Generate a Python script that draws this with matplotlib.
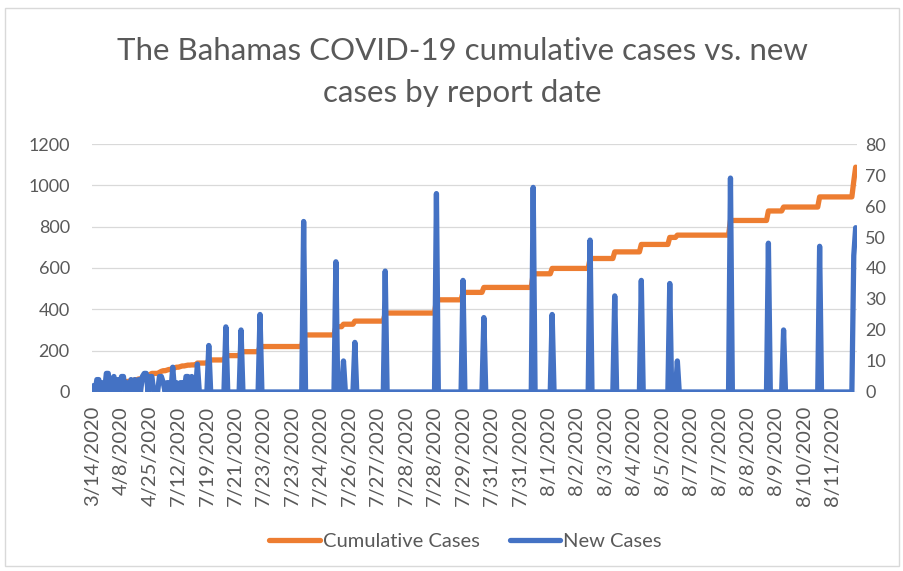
import numpy as np
import matplotlib.pyplot as plt
from matplotlib.patches import Rectangle

plt.rcParams['font.family'] = ['Lato', 'DejaVu Sans']

# one row per report record, x axis labels every 15th record
n_rows = 403
label_every = 15
tick_labels = ["3/14/2020", "4/8/2020", "4/25/2020", "7/12/2020", "7/19/2020",
               "7/21/2020", "7/23/2020", "7/23/2020", "7/24/2020", "7/26/2020",
               "7/27/2020", "7/28/2020", "7/28/2020", "7/29/2020", "7/31/2020",
               "7/31/2020", "8/1/2020", "8/2/2020", "8/3/2020", "8/4/2020",
               "8/5/2020", "8/7/2020", "8/7/2020", "8/8/2020", "8/9/2020",
               "8/10/2020", "8/11/2020"]

# new cases: records with a non-zero count (all other records are 0)
new_rows = [0, 2, 3, 5, 7, 8, 10, 11, 13, 15, 16, 18, 20, 22, 24, 26, 27, 28,
            30, 31, 35, 36, 37, 39, 40, 42, 44, 46, 47, 49, 50, 52, 55,
            61, 70, 78, 88, 111, 128, 132, 138, 154, 181, 195, 206, 232, 242,
            262, 275, 289, 304, 308, 336, 356, 364, 383, 401, 402]
new_values = [2, 4, 4, 3, 6, 6, 4, 5, 4, 5, 5, 3, 4, 4, 4, 5, 6, 6,
              5, 5, 5, 5, 3, 3, 3, 8, 3, 3, 3, 5, 5, 5, 9,
              15, 21, 20, 25, 55, 42, 10, 16, 39, 64, 36, 24, 66, 25,
              49, 31, 36, 35, 10, 69, 48, 20, 47, 44, 53]

# cumulative cases: value changes (held until the next change)
cum_rows = [0, 2, 3, 5, 7, 8, 10, 11, 13, 15, 16, 18, 20, 22, 24, 26, 27, 28,
            30, 31, 35, 36, 37, 39, 40, 42, 44, 46, 47, 49, 50, 52, 55,
            61, 70, 78, 88, 111, 128, 132, 138, 154, 181, 195, 206, 232, 242,
            262, 275, 289, 304, 308, 336, 356, 364, 383, 401, 402]
cum_values = [2, 6, 10, 13, 19, 25, 29, 34, 38, 43, 48, 51, 55, 59, 63, 68, 74, 80,
              85, 90, 95, 100, 103, 106, 109, 117, 120, 123, 126, 128, 130, 131, 140,
              155, 176, 195, 220, 276, 316, 328, 343, 382, 446, 482, 506, 572, 598,
              646, 678, 714, 748, 759, 830, 876, 895, 944, 1020, 1088]

rows = np.arange(n_rows)
new_cases = np.zeros(n_rows)
new_cases[new_rows] = new_values
cum_cases = np.zeros(n_rows)
for r, v in zip(cum_rows, cum_values):
    cum_cases[r:] = v

orange = "#ED7D31"
blue = "#4472C4"
grey_txt = "#595959"
lw = 3.8

fig = plt.figure(figsize = (9.04, 5.71), dpi = 100)
ax = fig.add_axes([0.1018, 0.3135, 0.8462, 0.4343])

l1, = ax.plot(rows, cum_cases, color = orange, linewidth = lw,
              solid_joinstyle = "round", solid_capstyle = "round", label = "Cumulative Cases")
ax.set_ylim(0, 1200)
ax.set_yticks(np.arange(0, 1201, 200))
ax.set_xlim(-0.55, 402.7)
ax.grid(axis = "y", color = "#d9d9d9", linewidth = 0.9)
ax.set_axisbelow(True)
ax.set_xticks(rows[::label_every][:len(tick_labels)])
ax.set_xticklabels(tick_labels, rotation = 90)
ax.tick_params(axis = "x", length = 0, pad = 10, labelsize = 14.5, labelcolor = grey_txt)
ax.tick_params(axis = "y", length = 0, pad = 16, labelsize = 13, labelcolor = grey_txt)

ax2 = ax.twinx()
l2, = ax2.plot(rows, new_cases, color = blue, linewidth = lw,
               solid_joinstyle = "round", solid_capstyle = "round", label = "New Cases")
ax2.set_ylim(0, 80)
ax2.set_yticks(np.arange(0, 81, 10))
ax2.tick_params(axis = "y", length = 0, pad = 6, labelsize = 13, labelcolor = grey_txt)

for a in (ax, ax2):
    for s in a.spines.values():
        s.set_visible(False)

fig.text(0.511, 0.874, "The Bahamas COVID-19 cumulative cases vs. new\ncases by report date",
         ha = "center", va = "center", fontsize = 22.5, color = grey_txt,
         linespacing = 1.6)

fig.legend([l1, l2], ["Cumulative Cases", "New Cases"], loc = "center",
           bbox_to_anchor = (0.515, 0.051), ncol = 2, frameon = False,
           fontsize = 14.5, labelcolor = grey_txt, handlelength = 2.5,
           handletextpad = 0.15, columnspacing = 1.5)

fig.patches.append(Rectangle((0.0055, 0.009), 0.989, 0.977, transform = fig.transFigure,
                             fill = False, edgecolor = "#d9d9d9", linewidth = 1))

plt.savefig("out.png", dpi = 100)
